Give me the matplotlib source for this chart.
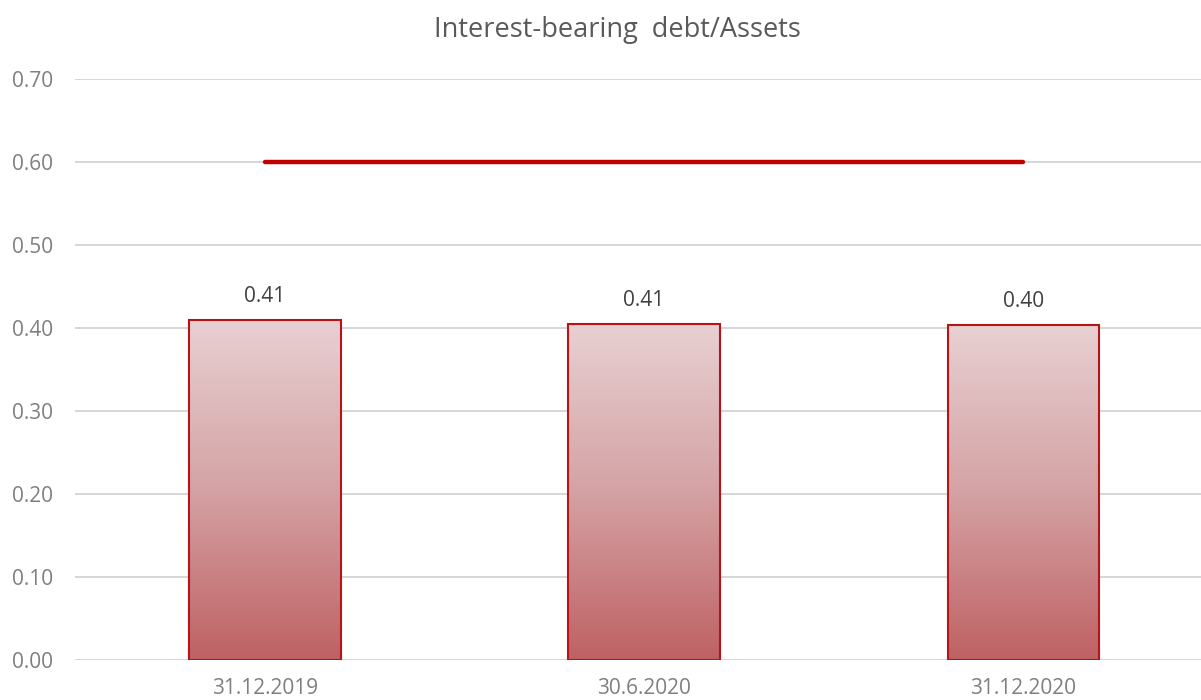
import numpy as np
import matplotlib.pyplot as plt
from matplotlib.colors import LinearSegmentedColormap

categories = ['31.12.2019', '30.6.2020', '31.12.2020']
ratio = [0.4096, 0.405, 0.4036]
ratio_labels = ['0.41', '0.41', '0.40']
limit = [0.60, 0.60, 0.60]
yticks = [0.0, 0.1, 0.2, 0.3, 0.4, 0.5, 0.6, 0.7]

plt.rcParams['font.family'] = ['Open Sans', 'DejaVu Sans']

fig = plt.figure(figsize=(12.01, 7.00), dpi=100)
ax = fig.add_axes([75/1201, 40/700, 1126/1201, 581/700])

x = np.arange(len(categories))
grad = LinearSegmentedColormap.from_list('g', ['#BF6163', '#D4A2A4', '#E8D0D2'])

bars = ax.bar(x, ratio, width=0.40, facecolor='none', edgecolor='#B81418', linewidth=1.5, zorder=3)
img = np.linspace(0, 1, 256).reshape(-1, 1)
for b in bars:
    x0, y0 = b.get_x(), b.get_y()
    im = ax.imshow(img, cmap=grad, origin='lower', aspect='auto',
                   extent=[x0, x0 + b.get_width(), y0, y0 + b.get_height()], zorder=2)
    im.set_clip_path(b)

for xi, v, lab in zip(x, ratio, ratio_labels):
    ax.text(xi, v + 0.016, lab, ha='center', va='bottom', fontsize=15, color='#404040')

ax.plot(x, limit, color='#C00000', linewidth=3.2, solid_capstyle='round', zorder=4)

ax.set_xlim(-0.5, 2.468)
ax.set_ylim(0, 0.70)
ax.set_yticks(yticks)
ax.set_yticklabels(['%.2f' % t for t in yticks])
ax.set_xticks(x)
ax.set_xticklabels(categories)
ax.yaxis.grid(True, color='#D6D6D6', linewidth=1.4)
ax.set_axisbelow(True)
for s in ax.spines.values():
    s.set_visible(False)
ax.tick_params(axis='both', length=0, labelsize=15, colors='#7F7F7F')
ax.tick_params(axis='y', pad=16)
ax.tick_params(axis='x', pad=13)

fig.text(617/1201, 1 - 37/700, 'Interest-bearing  debt/Assets', ha='center', va='baseline',
         fontsize=19.5, color='#595959')

fig.savefig('out.png', dpi=100)
